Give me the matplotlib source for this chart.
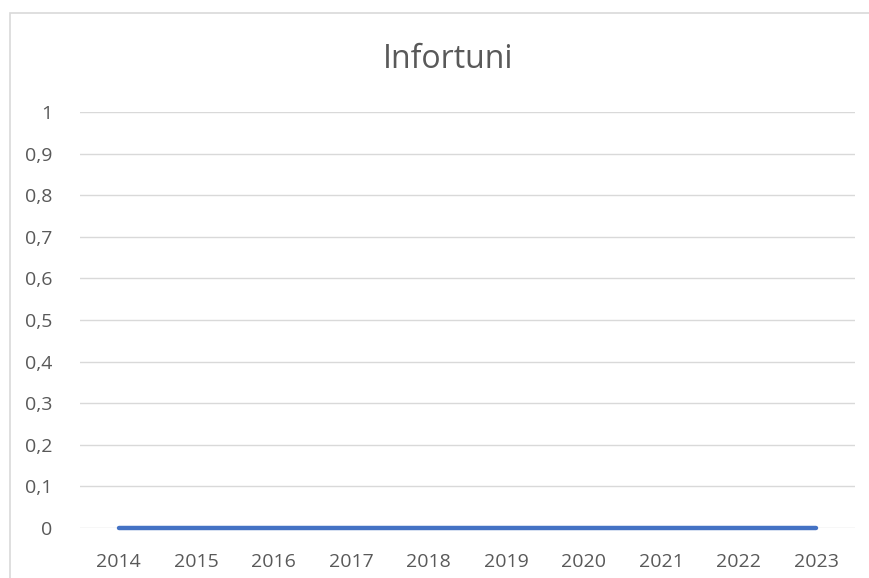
import matplotlib.pyplot as plt
from matplotlib.ticker import FuncFormatter
from matplotlib.patches import Rectangle

anni = ['2014', '2015', '2016', '2017', '2018', '2019', '2020', '2021', '2022', '2023']
infortuni = [0, 0, 0, 0, 0, 0, 0, 0, 0, 0]
tick_y = [0, 0.1, 0.2, 0.3, 0.4, 0.5, 0.6, 0.7, 0.8, 0.9, 1]

plt.rcParams['font.family'] = ['Open Sans', 'DejaVu Sans']
testo = '#595959'

fig = plt.figure(figsize=(8.7, 5.78), dpi=100)
# cornice del grafico (tagliata a destra e in basso come nello screenshot)
fig.patches.append(Rectangle((10 / 870, -0.1), 2, (578 - 13) / 578 + 0.1,
                             transform=fig.transFigure, fill=False,
                             edgecolor='#D9D9D9', linewidth=1.2))

ax = fig.add_axes([80 / 870, 50 / 578, 775 / 870, 416 / 578])
x = range(len(anni))
ax.plot(x, infortuni, color='#4472C4', linewidth=3.2, solid_capstyle='round',
        zorder=3, clip_on=False)

ax.set_xlim(-0.5, len(anni) - 0.5)
ax.set_ylim(0, 1)
ax.set_yticks(tick_y)
ax.yaxis.set_major_formatter(FuncFormatter(lambda v, p: ('%g' % round(v, 1)).replace('.', ',')))
ax.set_xticks(list(x))
ax.set_xticklabels(anni)
ax.grid(axis='y', color='#D9D9D9', linewidth=1)
ax.set_axisbelow(True)
for s in ax.spines.values():
    s.set_visible(False)
ax.tick_params(length=0, labelsize=14, colors=testo, pad=18)
ax.tick_params(axis='y', pad=20)

fig.text(448 / 870, 1 - 60 / 578, 'Infortuni', ha='center', va='center',
         fontsize=23, color=testo)

fig.savefig('out.png', dpi=100)
